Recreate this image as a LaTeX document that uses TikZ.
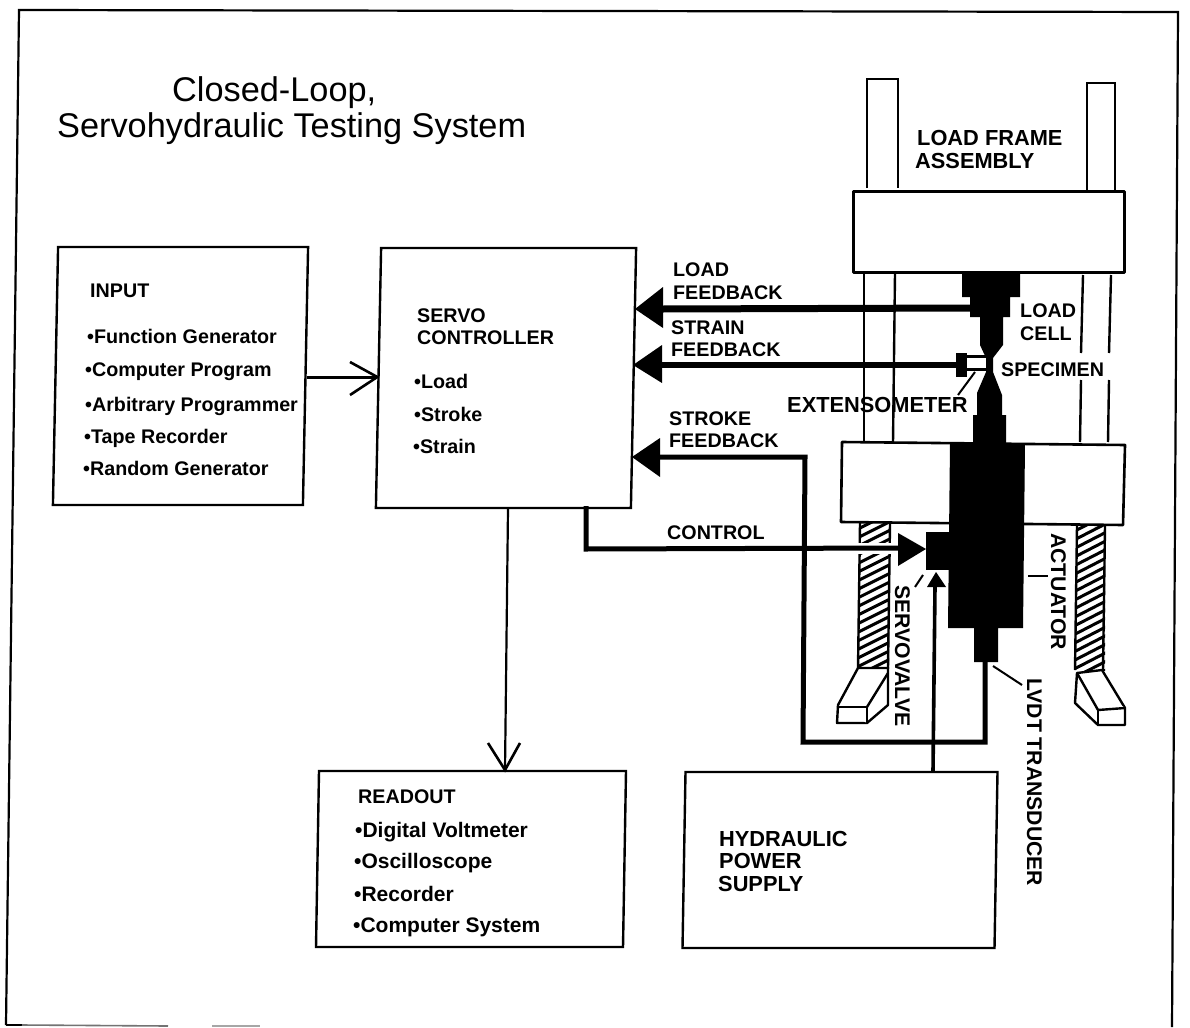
\documentclass[tikz,border=0pt]{standalone}
\usepackage{fontspec}
\setmainfont{Liberation Sans}
\newfontfamily\labelfont{Liberation Sans Bold}
\tikzset{
  boxshape/.style={draw=black,line width=2.4pt,inner sep=0pt,transform shape},
  lbl/.style={anchor=base west,inner sep=0pt,font=\labelfont\fontsize{19.7}{22}\selectfont},
  lblw/.style={anchor=base west,inner sep=0pt,font=\labelfont\fontsize{21.8}{22}\selectfont},
  lst/.style={anchor=base west,inner sep=0pt,font=\labelfont\fontsize{19.7}{22}\selectfont},
  lstw/.style={anchor=base west,inner sep=0pt,font=\labelfont\fontsize{21}{22}\selectfont},
  ttl/.style={anchor=base west,inner sep=0pt,font=\fontsize{34.3}{38}\selectfont},
  vlbl/.style={anchor=base west,inner sep=0pt,rotate=-90,font=\labelfont\fontsize{21.2}{22}\selectfont},
  frameline/.style={line width=2.2pt,line join=miter},
  col/.style={line width=2.4pt},
  part/.style={draw=black,line width=2.6pt,fill=white,line join=round},
  foot/.style={line width=2.4pt,line join=round,fill=white},
  lead/.style={line width=2pt},
  thin link/.style={line width=2.2pt},
  fb/.style={line width=#1,line join=miter},
  head/.style={fill=black,draw=none},
  hatchline/.style={line width=3pt},
}
\begin{document}
\begin{tikzpicture}[x=1pt,y=-1pt]
\useasboundingbox (0,0) rectangle (1190,1027);
\fill[white] (0,0) rectangle (1190,1027);
% outer frame
\draw[frameline] (6,1025) -- (19,10) -- (1178,12) -- (1172,1027);
\draw[line width=2.6pt] (6,1025) -- (22,1025);
\draw[line width=1.6pt,black!55] (22,1025) -- (168,1026);
\draw[line width=1.4pt,black!35] (212,1026) -- (260,1026);
% title
\node[ttl] (t1) at (172,102) {Closed-Loop,};
\node[ttl] (t2) at (57,138) {Servohydraulic Testing System};
% boxes
\node[boxshape,xslant=0.02,minimum width=250pt,minimum height=258pt] (input) at (180.5,376) {};
\node[boxshape,xslant=0.02,minimum width=255pt,minimum height=260pt] (servo) at (506,378) {};
\node[boxshape,xslant=0.017,minimum width=307pt,minimum height=176pt] (readout) at (471,859) {};
\node[boxshape,xslant=0.017,minimum width=312pt,minimum height=176pt] (hyd) at (840,860) {};
% box texts
\node[lbl] (i0) at (90,297) {INPUT};
\node[lst] (i1) at (87,343) {•Function Generator};
\node[lst] (i2) at (85,376) {•Computer Program};
\node[lst] (i3) at (85,411) {•Arbitrary Programmer};
\node[lst] (i4) at (84,443) {•Tape Recorder};
\node[lst] (i5) at (83,475) {•Random Generator};
\node[lbl] (s0) at (417,322) {SERVO};
\node[lbl] (s1) at (417,344) {CONTROLLER};
\node[lst] (s2) at (414,388) {•Load};
\node[lst] (s3) at (414,421) {•Stroke};
\node[lst] (s4) at (413,453) {•Strain};
\node[lbl] (r0) at (358,803) {READOUT};
\node[lstw] (r1) at (355,837) {•Digital Voltmeter};
\node[lstw] (r2) at (354,868) {•Oscilloscope};
\node[lstw] (r3) at (354,901) {•Recorder};
\node[lstw] (r4) at (353,932) {•Computer System};
\node[lblw] (h0) at (719,846) {HYDRAULIC};
\node[lblw] (h1) at (719,868) {POWER};
\node[lblw] (h2) at (718,891) {SUPPLY};
% load frame columns
\draw[col] (867,188) -- (867,79) -- (898,79) -- (898,188);
\draw[col] (1087,191) -- (1087,83) -- (1115,83) -- (1115,191);
\draw[col] (864,273) -- (864,442);
\draw[col] (895,273) -- (893,442);
\draw[col] (1083,275) -- (1081,353) (1081,380) -- (1080,442);
\draw[col] (1111,275) -- (1109,353) (1109,380) -- (1108,442);
% hatched legs
\begin{scope}
\clip (859,523) rectangle (889,668);
\foreach \k in {0,...,20}{\draw[hatchline] (856,{530+\k*8.6}) -- (892,{512+\k*8.6});}
\end{scope}
\draw[col] (860,523) -- (858,668);
\draw[col] (890,523) -- (888,668);
\begin{scope}
\clip (1076,525) rectangle (1105,670);
\foreach \k in {0,...,20}{\draw[hatchline] (1073,{532+\k*8.6}) -- (1108,{514+\k*8.6});}
\end{scope}
\draw[col] (1077,525) -- (1075,670);
\draw[col] (1105,525) -- (1103,670);
% feet
\draw[foot] (858,668) -- (838,705) -- (837,723) -- (867,723) -- (888,705) -- (888,668) -- cycle;
\draw[foot] (838,707) -- (867,707) -- (867,723);
\draw[foot] (867,707) -- (888,673);
\draw[foot] (1077,673) -- (1075,703) -- (1098,725) -- (1125,725) -- (1125,708) -- (1102,670) -- cycle;
\draw[foot] (1077,673) -- (1098,710) -- (1125,708);
\draw[foot] (1098,710) -- (1098,725);
% crossbars
\node[part,minimum width=271pt,minimum height=81pt,inner sep=0pt] (upper) at (989,232) {};
\draw[part] (842,442) -- (1125,445) -- (1123,525) -- (841,522) -- cycle;
% load train
\fill[black] (962,272) -- (1020,272) -- (1020,297) -- (1010,297) -- (1010,317) -- (1003,317) -- (1003,345)
  -- (993,358) -- (993,372) -- (1002,395) -- (1002,415) -- (1006,415) -- (1006,444) -- (973,444) -- (973,415)
  -- (977,415) -- (977,393) -- (986,372) -- (986,358) -- (980,345) -- (980,317) -- (970,317) -- (970,297) -- (962,297) -- cycle;
\coordinate (loadcell) at (972,308);
% actuator
\fill[black] (950,443) -- (1025,444) -- (1023,628) -- (998,628) -- (998,662) -- (974,662) -- (974,628) -- (948,628) -- cycle;
\coordinate (lvdt) at (985,662);
% servovalve
\fill[black] (926,532) -- (952,532) -- (952,570) -- (926,570) -- cycle;
% extensometer
\fill[black] (956,353) -- (967,353) -- (967,377) -- (956,377) -- cycle;
\draw[line width=3.4pt] (967,356.5) -- (986,356.5) (967,369.5) -- (986,369.5);
\coordinate (extW) at (960,365);
% leaders
\draw[lead] (975,372) -- (958,395);
\draw[lead] (923,575) -- (915,587);
\draw[lead] (1028,576) -- (1048,576);
\draw[lead] (993,666) -- (1022,685);
% feedback connectors
\coordinate (loadtip) at (663,309);
\coordinate (straintip) at (662,365);
\coordinate (stroketip) at (660,457);
\draw[fb=7pt] (loadcell) -- (loadtip);
\draw[fb=6pt] (extW) -- (straintip);
\fill[head] (635,309) -- (663,287) -- (663,328) -- cycle;
\fill[head] (633,365) -- (662,345) -- (662,383) -- cycle;
\fill[head] (632,457) -- (660,438) -- (660,477) -- cycle;
\coordinate (c1) at (805,457);
\coordinate (c2) at (803,742);
\coordinate (c3) at (985,742);
\draw[fb=5pt] (lvdt) -- (c3) -- (c2) -- (c1) -- (stroketip);
% control
\coordinate (c4) at (586,549);
\coordinate (c5) at (900,548);
\draw[white,line width=11pt] (858,548) -- (891,548);
\draw[fb=5pt] (586,506) -- (c4) -- (c5);
\fill[head] (926,549) -- (898,533) -- (898,566) -- cycle;
% power
\coordinate (p1) at (935,586);
\draw[line width=3.6pt] (hyd.north -| 933,0) -- (p1);
\fill[head] (936,572) -- (927,587) -- (946,587) -- cycle;
% input -> servo
\coordinate (a1) at (350,362);
\coordinate (a2) at (350,395);
\draw[line width=3pt] (input.east |- 0,377) -- (servo.west |- 0,377);
\draw[line width=2.6pt] (a1) -- (servo.west |- 0,377) -- (a2);
% servo -> readout
\coordinate (a3) at (488,743);
\coordinate (a4) at (520,743);
\coordinate (a5) at (505,770);
\draw[thin link] (508,508) -- (a5);
\draw[line width=2.6pt] (a3) -- (a5) -- (a4);
% diagram labels
\node[lbl] (l1) at (673,276) {LOAD};
\node[lbl] (l2) at (673,299) {FEEDBACK};
\node[lbl] (l3) at (671,334) {STRAIN};
\node[lbl] (l4) at (671,356) {FEEDBACK};
\node[lbl] (l5) at (669,425) {STROKE};
\node[lbl] (l6) at (669,447) {FEEDBACK};
\node[lbl] (l7) at (667,539) {CONTROL};
\node[lblw] (l8) at (787,412) {EXTENSOMETER};
\node[lblw] (l9) at (917,146) {LOAD FRAME};
\node[lblw] (l10) at (915,168) {ASSEMBLY};
\node[lbl] (l11) at (1020,317) {LOAD};
\node[lbl] (l12) at (1020,340) {CELL};
\node[lbl] (l13) at (1001,376) {SPECIMEN};
\node[vlbl] (v1) at (1051,533) {ACTUATOR};
\node[vlbl] (v2) at (895,585) {SERVOVALVE};
\node[vlbl] (v3) at (1027,678) {LVDT TRANSDUCER};
\end{tikzpicture}
\end{document}
